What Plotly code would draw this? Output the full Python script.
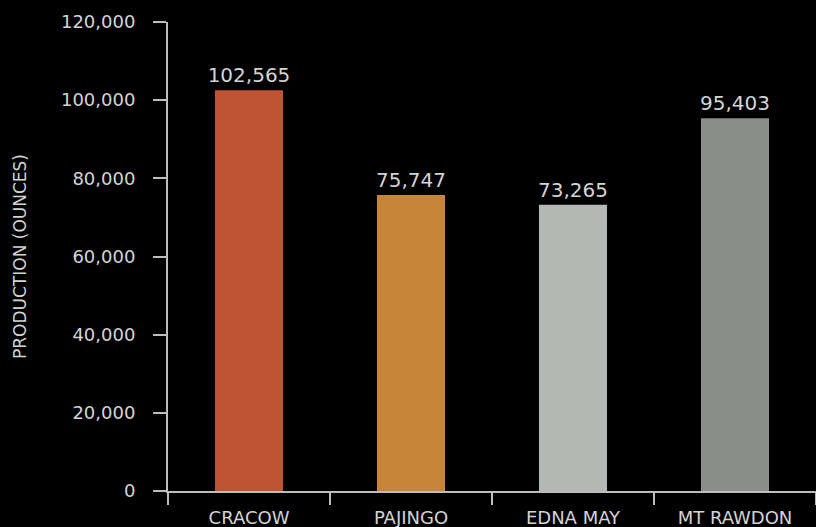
import plotly.graph_objects as go

categories = ["CRACOW", "PAJINGO", "EDNA MAY", "MT RAWDON"]
production = [102565, 75747, 73265, 95403]
bar_colors = ["#c05333", "#c8843a", "#b3b8b4", "#8b8f8b"]
y_ticks = [0, 20000, 40000, 60000, 80000, 100000, 120000]

axis_col = "#bdbdbd"
text_col = "#d4d4d4"
font_family = "DejaVu Sans, sans-serif"

fig = go.Figure(go.Bar(
    x=categories, y=production,
    marker=dict(color=bar_colors, line=dict(width=0)),
    width=0.42,
    texttemplate="%{y:,}", textposition="outside", constraintext="none",
    textfont=dict(size=20, color=text_col, family=font_family),
    cliponaxis=False,
))

fig.update_layout(
    width=816, height=527,
    margin=dict(l=168, r=0, t=22, b=36),
    paper_bgcolor="black", plot_bgcolor="black",
    showlegend=False,
    font=dict(family=font_family, color=text_col),
    uniformtext=dict(mode=False),
)
fig.update_xaxes(
    showline=True, linecolor=axis_col, linewidth=2,
    ticks="outside", tickson="boundaries", ticklen=12, tickwidth=2, tickcolor=axis_col,
    tickfont=dict(size=18, color=text_col), ticklabelstandoff=9, showgrid=False,
)
fig.update_yaxes(
    range=[0, 120000], tickvals=y_ticks, tickformat=",",
    showline=True, linecolor=axis_col, linewidth=2,
    ticks="outside", ticklen=13, tickwidth=2, tickcolor=axis_col,
    tickfont=dict(size=18, color=text_col), ticklabelstandoff=14,
    showgrid=False, zeroline=False,
    title=dict(text="PRODUCTION (OUNCES)", font=dict(size=17, color=text_col), standoff=30),
)

fig.write_html("out.html")
